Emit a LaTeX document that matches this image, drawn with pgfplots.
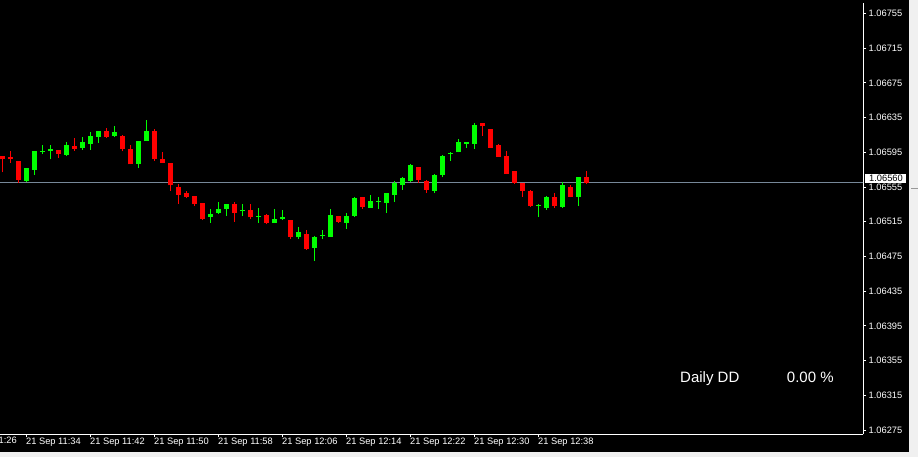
\documentclass[border=0pt]{standalone}
\usepackage{pgfplots}
\pgfplotsset{compat=1.18}
\usepackage{fontspec}
\setmainfont{Liberation Sans}
\definecolor{bidline}{RGB}{119,136,153}
\definecolor{bull}{RGB}{0,255,0}
\definecolor{bear}{RGB}{255,0,0}
\definecolor{panel}{RGB}{240,240,240}
\newcommand{\tl}{\fontsize{9.3}{11}\selectfont}
% exact decimal shift of prices (price - 1.06) in units of 0.00001
\newcommand\pricetrafo[1]{%
  \pgfmathfloatparsenumber{#1}%
  \pgfmathfloatgetflagstomacro\pgfmathresult\ptflag
  \ifnum\ptflag>2 \def\pgfmathresult{nan}\else
    \pgfmathfloattofixed{\pgfmathresult}%
    \edef\pgfmathresult{\fpeval{(\pgfmathresult-1.06)*100000}}%
  \fi}
\begin{document}
\begin{tikzpicture}[x=1pt,y=1pt]
\fill[black] (0,0) rectangle (918,457);
\fill[panel] (908.5,0) rectangle (918,457);
\fill[panel] (0,0) rectangle (918,4.7);
\draw[gray!80] (911,268.7) -- (918,268.7);
\begin{axis}[
  at={(0,26)}, anchor=south west,
  scale only axis, width=863pt, height=431pt,
  xmin=-3.3125, xmax=104.5625,
  ymin=1.0627005, ymax=1.0676652,
  y coord trafo/.code={\pricetrafo{#1}},
  unbounded coords=jump,
  axis x line*=bottom, axis y line*=right,
  axis line style={white, line width=1pt},
  tick style={white, line width=1pt},
  major tick length=3pt, tick align=outside,
  xtick={0,8,16,24,32,40,48,56,64},
  xticklabels={21 Sep 11:34,21 Sep 11:42,21 Sep 11:50,21 Sep 11:58,21 Sep 12:06,21 Sep 12:14,21 Sep 12:22,21 Sep 12:30,21 Sep 12:38},
  ytick={1.06275,1.06315,1.06355,1.06395,1.06435,1.06475,1.06515,1.06555,1.06595,1.06635,1.06675,1.06715,1.06755},
  yticklabels={1.06275,1.06315,1.06355,1.06395,1.06435,1.06475,1.06515,1.06555,1.06595,1.06635,1.06675,1.06715,1.06755},
  xticklabel style={anchor=north west, inner sep=0pt, text=white, font=\tl, xshift=-0.5pt},
  yticklabel style={anchor=west, inner sep=0pt, text=white, font=\tl, xshift=2.5pt},
]
% bid line
\addplot[bidline, line width=1pt] coordinates {(-4,1.06560) (105,1.06560)};
% green wicks
\addplot[bull, line width=1pt] coordinates {
(0,1.06561)(0,1.06577)(0,nan) (1,1.06569)(1,1.06596)(1,nan) (2,1.06593)(2,1.06604)(2,nan)
(3,1.06587)(3,1.06603)(3,nan) (5,1.06591)(5,1.06607)(5,nan) (7,1.06598)(7,1.06613)(7,nan)
(8,1.06598)(8,1.06618)(8,nan) (9,1.06606)(9,1.06620)(9,nan) (11,1.06613)(11,1.06625)(11,nan)
(14,1.06577)(14,1.06608)(14,nan) (15,1.06608)(15,1.06632)(15,nan) (23,1.06514)(23,1.06530)(23,nan)
(24,1.06524)(24,1.06538)(24,nan) (25,1.06522)(25,1.06536)(25,nan) (27,1.06522)(27,1.06536)(27,nan)
(29,1.06514)(29,1.06531)(29,nan) (31,1.06514)(31,1.06530)(31,nan) (32,1.06517)(32,1.06528)(32,nan)
(34,1.06495)(34,1.06509)(34,nan) (36,1.06470)(36,1.06499)(36,nan) (37,1.06495)(37,1.06505)(37,nan)
(38,1.06498)(38,1.06530)(38,nan) (40,1.06507)(40,1.06525)(40,nan) (41,1.06521)(41,1.06544)(41,nan)
(43,1.06531)(43,1.06546)(43,nan) (44,1.06530)(44,1.06544)(44,nan) (45,1.06525)(45,1.06548)(45,nan)
(46,1.06538)(46,1.06562)(46,nan) (47,1.06552)(47,1.06566)(47,nan) (48,1.06561)(48,1.06581)(48,nan)
(51,1.06548)(51,1.06570)(51,nan) (52,1.06566)(52,1.06592)(52,nan) (53,1.06585)(53,1.06595)(53,nan)
(54,1.06595)(54,1.06610)(54,nan) (55,1.06600)(55,1.06607)(55,nan) (56,1.06599)(56,1.06629)(56,nan)
(64,1.06521)(64,1.06536)(64,nan) (65,1.06529)(65,1.06545)(65,nan) (67,1.06531)(67,1.06561)(67,nan)
(69,1.06533)(69,1.06566)(69,nan)
};
% green bodies (open -> close)
\addplot[bull, line width=5pt] coordinates {
(0,1.06562)(0,1.06577)(0,nan) (1,1.06575)(1,1.06596)(1,nan) (2,1.06596)(2,1.06597)(2,nan)
(3,1.06597)(3,1.06599)(3,nan) (5,1.06592)(5,1.06603)(5,nan) (7,1.06600)(7,1.06607)(7,nan)
(8,1.06605)(8,1.06614)(8,nan) (9,1.06613)(9,1.06620)(9,nan) (11,1.06614)(11,1.06618)(11,nan)
(14,1.06582)(14,1.06608)(14,nan) (15,1.06608)(15,1.06620)(15,nan) (23,1.06521)(23,1.06524)(23,nan)
(24,1.06525)(24,1.06530)(24,nan) (25,1.06530)(25,1.06535)(25,nan) (27,1.06527)(27,1.06529)(27,nan)
(29,1.06521)(29,1.06522)(29,nan) (31,1.06514)(31,1.06518)(31,nan) (32,1.06518)(32,1.06520)(32,nan)
(34,1.06497)(34,1.06503)(34,nan) (36,1.06485)(36,1.06498)(36,nan) (37,1.06499)(37,1.06500)(37,nan)
(38,1.06498)(38,1.06523)(38,nan) (40,1.06514)(40,1.06522)(40,nan) (41,1.06522)(41,1.06542)(41,nan)
(43,1.06531)(43,1.06539)(43,nan) (44,1.06538)(44,1.06539)(44,nan) (45,1.06537)(45,1.06548)(45,nan)
(46,1.06546)(46,1.06560)(46,nan) (47,1.06557)(47,1.06565)(47,nan) (48,1.06562)(48,1.06580)(48,nan)
(51,1.06551)(51,1.06569)(51,nan) (52,1.06569)(52,1.06591)(52,nan) (53,1.06593)(53,1.06594)(53,nan)
(54,1.06595)(54,1.06607)(54,nan) (55,1.06605)(55,1.06607)(55,nan) (56,1.06605)(56,1.06627)(56,nan)
(64,1.06533)(64,1.06534)(64,nan) (65,1.06531)(65,1.06544)(65,nan) (67,1.06532)(67,1.06557)(67,nan)
(69,1.06544)(69,1.06566)(69,nan)
};
% red wicks
\addplot[bear, line width=1pt] coordinates {
(-3,1.06572)(-3,1.06591)(-3,nan) (-2,1.06583)(-2,1.06597)(-2,nan) (-1,1.06560)(-1,1.06585)(-1,nan)
(4,1.06589)(4,1.06598)(4,nan) (6,1.06597)(6,1.06612)(6,nan) (10,1.06612)(10,1.06623)(10,nan)
(12,1.06596)(12,1.06615)(12,nan) (13,1.06581)(13,1.06603)(13,nan) (16,1.06585)(16,1.06622)(16,nan)
(17,1.06583)(17,1.06595)(17,nan) (18,1.06551)(18,1.06583)(18,nan) (19,1.06536)(19,1.06559)(19,nan)
(20,1.06542)(20,1.06551)(20,nan) (21,1.06533)(21,1.06545)(21,nan) (22,1.06517)(22,1.06537)(22,nan)
(26,1.06515)(26,1.06538)(26,nan) (28,1.06518)(28,1.06536)(28,nan) (30,1.06512)(30,1.06524)(30,nan)
(33,1.06495)(33,1.06517)(33,nan) (35,1.06483)(35,1.06506)(35,nan) (39,1.06514)(39,1.06522)(39,nan)
(42,1.06530)(42,1.06544)(42,nan) (49,1.06560)(49,1.06578)(49,nan) (50,1.06548)(50,1.06563)(50,nan)
(57,1.06614)(57,1.06629)(57,nan) (58,1.06600)(58,1.06622)(58,nan) (59,1.06590)(59,1.06605)(59,nan)
(60,1.06570)(60,1.06596)(60,nan) (61,1.06559)(61,1.06574)(61,nan) (62,1.06544)(62,1.06560)(62,nan)
(63,1.06532)(63,1.06552)(63,nan) (66,1.06531)(66,1.06548)(66,nan) (68,1.06543)(68,1.06557)(68,nan)
(70,1.06558)(70,1.06573)(70,nan)
};
% red bodies (close -> open)
\addplot[bear, line width=5pt] coordinates {
(-3,1.06587)(-3,1.06591)(-3,nan) (-2,1.06587)(-2,1.06590)(-2,nan) (-1,1.06563)(-1,1.06585)(-1,nan)
(4,1.06593)(4,1.06598)(4,nan) (6,1.06599)(6,1.06602)(6,nan) (10,1.06613)(10,1.06619)(10,nan)
(12,1.06599)(12,1.06614)(12,nan) (13,1.06581)(13,1.06599)(13,nan) (16,1.06587)(16,1.06619)(16,nan)
(17,1.06583)(17,1.06587)(17,nan) (18,1.06557)(18,1.06583)(18,nan) (19,1.06546)(19,1.06555)(19,nan)
(20,1.06544)(20,1.06548)(20,nan) (21,1.06535)(21,1.06545)(21,nan) (22,1.06518)(22,1.06537)(22,nan)
(26,1.06525)(26,1.06536)(26,nan) (28,1.06520)(28,1.06528)(28,nan) (30,1.06514)(30,1.06523)(30,nan)
(33,1.06498)(33,1.06517)(33,nan) (35,1.06484)(35,1.06501)(35,nan) (39,1.06515)(39,1.06522)(39,nan)
(42,1.06532)(42,1.06543)(42,nan) (49,1.06563)(49,1.06578)(49,nan) (50,1.06552)(50,1.06562)(50,nan)
(57,1.06625)(57,1.06629)(57,nan) (58,1.06600)(58,1.06622)(58,nan) (59,1.06590)(59,1.06604)(59,nan)
(60,1.06570)(60,1.06591)(60,nan) (61,1.06560)(61,1.06573)(61,nan) (62,1.06551)(62,1.06560)(62,nan)
(63,1.06533)(63,1.06551)(63,nan) (66,1.06533)(66,1.06543)(66,nan) (68,1.06544)(68,1.06555)(68,nan)
(70,1.06560)(70,1.06567)(70,nan)
};
\end{axis}
% partially visible first time label
\node[anchor=north west, inner sep=0pt, text=white, font=\tl] at (-38,20) {21 Sep 11:26};
% current bid label
\fill[white] (865,274.3) rectangle (906,283);
\node[anchor=west, inner sep=0pt, text=black, font=\tl] at (869,278.6) {1.06560};
% Daily DD
\node[anchor=base west, inner sep=0pt, text=white, font=\fontsize{15}{18}\selectfont] at (680,74.5) {Daily DD};
\node[anchor=base west, inner sep=0pt, text=white, font=\fontsize{15}{18}\selectfont] at (786.7,74.5) {0.00 \%};
\pgfresetboundingbox
\path[use as bounding box] (0,0) rectangle (918,457);
\end{tikzpicture}
\end{document}
